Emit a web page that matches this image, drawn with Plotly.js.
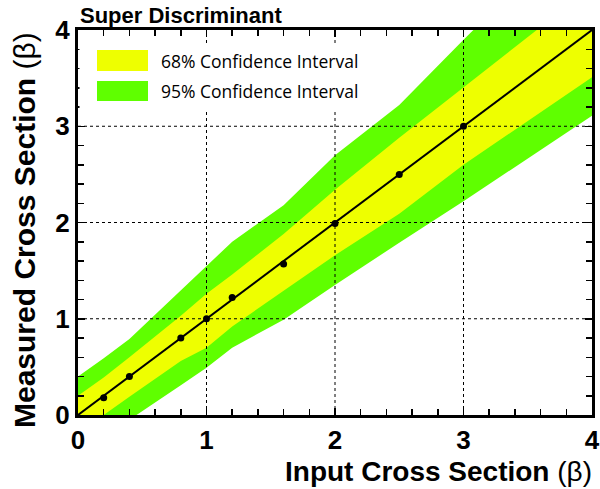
<!DOCTYPE html>
<html>
<head>
<meta charset="utf-8">
<script src="https://cdn.plot.ly/plotly-3.0.1.min.js"></script>
<style>html,body{margin:0;padding:0;background:#fff;}#chart{width:600px;height:489px;}</style>
</head>
<body>
<div id="chart"></div>
<script>
// ---- data ----
const inputX        = [0, 0.2, 0.4, 0.8, 1.0, 1.2, 1.6, 2.0, 2.5, 3.0, 4.0];
const green95Upper  = [0.40, 0.59, 0.79, 1.30, 1.55, 1.80, 2.18, 2.70, 3.22, 3.90, 5.20];
const yellow68Upper = [0.20, 0.39, 0.60, 1.03, 1.26, 1.46, 1.88, 2.34, 2.88, 3.40, 4.45];
const yellow68Lower = [-0.20, 0.00, 0.19, 0.56, 0.70, 0.92, 1.29, 1.66, 2.09, 2.60, 3.51];
const green95Lower  = [-0.45, -0.25, -0.05, 0.31, 0.49, 0.70, 0.99, 1.35, 1.79, 2.22, 3.11];
const pointX = [0.2, 0.4, 0.8, 1.0, 1.2, 1.6, 2.0, 2.5, 3.0];
const pointY = [0.18, 0.40, 0.80, 1.00, 1.22, 1.57, 1.99, 2.50, 3.00];
const diagX = [0, 4];
const diagY = [0, 4];
const tickVals = [0, 1, 2, 3, 4];
const tickLabels = ['0', '1', '2', '3', '4'];
const gridVals = [1, 2, 3];
const legendLabels = ['68% Confidence Interval', '95% Confidence Interval'];

const YELLOW = '#eeff00';
const GREEN = '#5fff00';

const traces = [
  {x: inputX, y: green95Lower, mode: 'lines', line: {width: 0, color: GREEN}, showlegend: false, hoverinfo: 'skip'},
  {x: inputX, y: green95Upper, mode: 'lines', line: {width: 0, color: GREEN}, fill: 'tonexty', fillcolor: GREEN, showlegend: false, hoverinfo: 'skip'},
  {x: inputX, y: yellow68Lower, mode: 'lines', line: {width: 0, color: YELLOW}, showlegend: false, hoverinfo: 'skip'},
  {x: inputX, y: yellow68Upper, mode: 'lines', line: {width: 0, color: YELLOW}, fill: 'tonexty', fillcolor: YELLOW, showlegend: false, hoverinfo: 'skip'},
  {x: diagX, y: diagY, mode: 'lines', line: {width: 2, color: 'black'}, showlegend: false},
  {x: pointX, y: pointY, mode: 'markers', marker: {size: 7, color: 'black'}, showlegend: false}
];

const L = 78, R = 8, T = 30, B = 74, W = 600, H = 489;
const pw = W - L - R, ph = H - T - B;
const px2paper = p => (p - L) / pw;
const py2paper = p => (H - B - p) / ph;

const shapes = [];
gridVals.forEach(v => {
  shapes.push({type: 'line', layer: 'above', xref: 'x', yref: 'paper', x0: v, x1: v, y0: 0, y1: 1, line: {color: 'black', width: 1, dash: 'dot'}});
  shapes.push({type: 'line', layer: 'above', xref: 'paper', yref: 'y', x0: 0, x1: 1, y0: v, y1: v, line: {color: 'black', width: 1, dash: 'dot'}});
});
// legend box and swatches
shapes.push({type: 'rect', layer: 'above', xref: 'paper', yref: 'paper', x0: px2paper(79.5), x1: px2paper(388), y0: py2paper(112), y1: py2paper(43), fillcolor: 'white', line: {width: 0}});
shapes.push({type: 'rect', layer: 'above', xref: 'paper', yref: 'paper', x0: px2paper(97), x1: px2paper(148), y0: py2paper(71), y1: py2paper(50), fillcolor: YELLOW, line: {width: 0}});
shapes.push({type: 'rect', layer: 'above', xref: 'paper', yref: 'paper', x0: px2paper(97), x1: px2paper(148), y0: py2paper(101), y1: py2paper(81), fillcolor: GREEN, line: {width: 0}});

const annotations = [
  {xref: 'paper', yref: 'paper', x: px2paper(159), y: py2paper(61), xanchor: 'left', yanchor: 'middle', showarrow: false, text: legendLabels[0], font: {family: 'Open Sans', size: 17.5, color: 'black'}},
  {xref: 'paper', yref: 'paper', x: px2paper(159), y: py2paper(91), xanchor: 'left', yanchor: 'middle', showarrow: false, text: legendLabels[1], font: {family: 'Open Sans', size: 17.5, color: 'black'}},
  {xref: 'paper', yref: 'paper', x: 1, xshift: 2, y: 0, yshift: -56, xanchor: 'right', yanchor: 'middle', showarrow: false, text: '<b>Input Cross Section</b> (β)', font: {family: 'Liberation Sans, Arial', size: 28, color: 'black'}},
  {xref: 'paper', yref: 'paper', x: 0, xshift: -54, y: 1, xanchor: 'center', yanchor: 'top', textangle: -90, showarrow: false, text: '<b>Measured Cross Section</b> (β)', font: {family: 'Liberation Sans, Arial', size: 30, color: 'black'}}
];

const axisCommon = {
  range: [0, 4], tickvals: tickVals, ticktext: tickLabels, ticks: 'inside', ticklen: 7, tickwidth: 1.5, tickcolor: 'black',
  showline: true, linecolor: 'black', linewidth: 3, mirror: 'allticks', showgrid: false, zeroline: false,
  tickfont: {family: 'Liberation Sans, Arial', size: 26, color: 'black', weight: 'bold'},
  minor: {dtick: 0.2, tick0: 0, ticks: 'inside', ticklen: 6, tickwidth: 1.5, tickcolor: 'black', showgrid: false},
  fixedrange: true
};

const layout = {
  width: W, height: H,
  margin: {l: L, r: R, t: T, b: B},
  paper_bgcolor: 'white', plot_bgcolor: 'white',
  title: {text: '<b>Super Discriminant</b>', x: 80 / W, xanchor: 'left', xref: 'container', y: 1 - 15 / H, yanchor: 'middle', yref: 'container', font: {family: 'Liberation Sans, Arial', size: 22, color: 'black'}},
  xaxis: Object.assign({}, axisCommon),
  yaxis: Object.assign({}, axisCommon),
  shapes: shapes,
  annotations: annotations,
  showlegend: false
};

Plotly.newPlot('chart', traces, layout, {displayModeBar: false, staticPlot: true});
</script>
</body>
</html>
